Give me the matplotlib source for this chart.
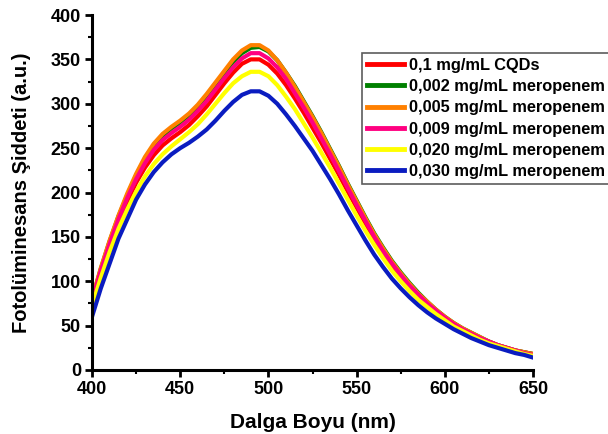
import numpy as np
from matplotlib import pyplot as plt
from matplotlib.ticker import MultipleLocator

plt.rcParams['font.family'] = ['Liberation Sans', 'DejaVu Sans']
plt.rcParams['font.weight'] = 'bold'

# wavelength grid (nm)
wl = np.arange(400, 651, 5)

# intensities (a.u.)
cqd = [77, 110, 140, 167, 190, 211, 228, 242, 253, 261, 268, 276, 286, 297, 310, 323, 335, 345, 350, 350,
       344, 334, 321, 306, 290, 273, 256, 238, 220, 201, 183, 165, 148, 132, 118, 105, 94, 84, 75, 66,
       59, 52, 46, 41, 36, 32, 28, 25, 22, 20, 18]
m002 = [79, 114, 145, 173, 197, 219, 238, 253, 264, 272, 279, 287, 297, 309, 322, 335, 347, 357, 363, 364,
        359, 349, 335, 320, 303, 286, 268, 249, 230, 210, 191, 172, 154, 138, 123, 110, 98, 87, 77, 68,
        60, 53, 47, 42, 37, 32, 28, 25, 22, 20, 18]
m005 = [80, 115, 146, 174, 199, 221, 240, 255, 266, 274, 281, 289, 299, 311, 324, 337, 350, 360, 366, 366,
        360, 349, 335, 319, 302, 285, 267, 248, 229, 209, 190, 171, 153, 137, 122, 109, 97, 86, 77, 68,
        60, 53, 47, 42, 37, 32, 28, 25, 22, 20, 18]
m009 = [78, 112, 142, 170, 194, 215, 233, 248, 259, 267, 274, 282, 292, 303, 316, 329, 341, 351, 357, 357,
        351, 341, 328, 312, 296, 279, 261, 243, 224, 205, 186, 168, 150, 134, 120, 107, 95, 85, 75, 67,
        59, 52, 46, 41, 36, 32, 28, 25, 22, 19, 17]
m020 = [72, 104, 133, 159, 181, 201, 218, 232, 243, 252, 260, 268, 277, 288, 300, 312, 323, 331, 336, 336,
        331, 321, 308, 294, 278, 262, 245, 228, 210, 192, 174, 157, 141, 126, 112, 100, 89, 79, 71, 63,
        56, 49, 44, 39, 34, 30, 27, 24, 21, 18, 16]
m030 = [60, 92, 120, 148, 170, 192, 209, 223, 234, 243, 250, 256, 263, 271, 281, 292, 302, 310, 314, 314,
        309, 300, 288, 275, 261, 247, 231, 215, 198, 180, 163, 146, 130, 116, 103, 92, 82, 73, 65, 58,
        52, 46, 41, 36, 32, 28, 25, 22, 19, 17, 14]

labels = ["0,1 mg/mL CQDs", "0,002 mg/mL meropenem", "0,005 mg/mL meropenem",
          "0,009 mg/mL meropenem", "0,020 mg/mL meropenem", "0,030 mg/mL meropenem"]
colors = ["#FF0000", "#008000", "#FF8000", "#FF0080", "#FFFF00", "#0A1CC0"]
series = [cqd, m002, m005, m009, m020, m030]

fig = plt.figure(figsize=(6.08, 4.34), dpi=100)
ax = fig.add_axes([92/608, 64/434, 441/608, 355/434])

for y, c, lab in zip(series, colors, labels):
    ax.plot(wl, y, color=c, lw=3, label=lab)

ax.set_xlim(400, 650)
ax.set_ylim(0, 400)
ax.xaxis.set_major_locator(MultipleLocator(50))
ax.xaxis.set_minor_locator(MultipleLocator(25))
ax.yaxis.set_major_locator(MultipleLocator(50))
ax.yaxis.set_minor_locator(MultipleLocator(25))

for s in ['top', 'right']:
    ax.spines[s].set_visible(False)
for s in ['left', 'bottom']:
    ax.spines[s].set_linewidth(2.2)

ax.tick_params(which='major', direction='out', length=5, width=2, labelsize=13, pad=3)
ax.tick_params(which='minor', direction='out', length=3, width=1.5)
for t in ax.get_xticklabels() + ax.get_yticklabels():
    t.set_fontweight('bold')

ax.set_xlabel("Dalga Boyu (nm)", fontsize=15, fontweight='bold', labelpad=11)
ax.set_ylabel("Fotolüminesans Şiddeti (a.u.)", fontsize=14.5, fontweight='bold', labelpad=14)

leg = ax.legend(loc='upper left', bbox_to_anchor=(0.612, 0.894),
                prop={'weight': 'bold', 'size': 11.8}, frameon=True, fancybox=False,
                handlelength=2.25, handletextpad=0.3, labelspacing=0.38,
                borderpad=0.32, borderaxespad=0)
leg.get_frame().set_edgecolor('#333333')
leg.get_frame().set_linewidth(1.2)
for h in leg.get_lines():
    h.set_linewidth(3.5)

plt.savefig("out.png", dpi=100)
